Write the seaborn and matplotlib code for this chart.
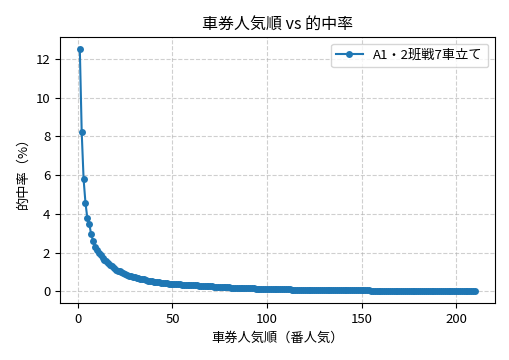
import pandas as pd
import matplotlib.pyplot as plt
import seaborn as sns

# hit rate (%) by popularity rank
rates = [
    12.5, 8.2, 5.78, 4.55, 3.76, 3.47, 2.95, 2.6, 2.3, 2.12,
    1.98, 1.87, 1.74, 1.62, 1.55, 1.45, 1.36, 1.30, 1.21, 1.12,
    1.06, 1.04, 0.98, 0.93, 0.89, 0.85, 0.81, 0.77, 0.74, 0.72,
    0.69, 0.66, 0.65, 0.63, 0.62, 0.57, 0.55, 0.53, 0.51, 0.50,
    0.48, 0.47, 0.46, 0.44, 0.43, 0.42, 0.41, 0.40, 0.39, 0.38,
    0.38, 0.37, 0.36, 0.36, 0.35, 0.35, 0.34, 0.33, 0.33, 0.32,
    0.31, 0.32, 0.30, 0.29, 0.29, 0.28, 0.27, 0.27, 0.26, 0.26,
    0.25, 0.24, 0.23, 0.23, 0.22, 0.22, 0.21, 0.21, 0.20, 0.20,
    0.19, 0.19, 0.18, 0.18, 0.18, 0.17, 0.17, 0.16, 0.16, 0.16,
    0.15, 0.15, 0.15, 0.14, 0.14, 0.13, 0.13, 0.13, 0.12, 0.12,
    0.12, 0.12, 0.11, 0.11, 0.11, 0.11, 0.10, 0.10, 0.10, 0.10,
    0.095, 0.093, 0.09, 0.09, 0.088, 0.085, 0.083, 0.08, 0.08, 0.078,
    0.076, 0.075, 0.073, 0.072, 0.07, 0.07, 0.068, 0.066, 0.065, 0.064,
    0.062, 0.061, 0.06, 0.059, 0.058, 0.057, 0.056, 0.055, 0.054, 0.053,
    0.052, 0.051, 0.05, 0.049, 0.048, 0.047, 0.046, 0.045, 0.045, 0.044,
    0.043, 0.042, 0.041, 0.041, 0.04, 0.039, 0.038, 0.038, 0.037, 0.036,
    0.036, 0.035, 0.034, 0.034, 0.033, 0.032, 0.032, 0.031, 0.03, 0.03,
    0.029, 0.029, 0.028, 0.028, 0.027, 0.027, 0.026, 0.026, 0.025, 0.025,
    0.024, 0.024, 0.023, 0.023, 0.022, 0.022, 0.021, 0.021, 0.02, 0.02,
    0.02, 0.019, 0.019, 0.018, 0.018, 0.018, 0.017, 0.017, 0.016, 0.016,
    0.016, 0.015, 0.015, 0.015, 0.014, 0.014, 0.014, 0.013, 0.013, 0.013,
]
ranks = list(range(1, len(rates) + 1))
series_label = "A1・2班戦7車立て"

df = pd.DataFrame({"rank": ranks, "rate": rates})

plt.rcParams['font.family'] = ['Noto Sans CJK JP', 'DejaVu Sans']

fig, ax = plt.subplots(figsize=(5.09, 3.6), dpi=100)
sns.lineplot(data=df, x="rank", y="rate", marker="o", markersize=5,
             markeredgewidth=0, color="#1f77b4", linewidth=1.5,
             label=series_label, ax=ax)
ax.set_title("車券人気順 vs 的中率", fontsize=11.5)
ax.set_xlabel("車券人気順（番人気）", fontsize=9.5)
ax.set_ylabel("的中率（%）", fontsize=9.5)
ax.tick_params(labelsize=9.5)
ax.grid(True, linestyle="--", alpha=0.6)
ax.legend(loc="upper right", fontsize=9.5)
plt.subplots_adjust(left=0.118, right=0.972, top=0.897, bottom=0.158)
plt.savefig("out.png", dpi=100)
